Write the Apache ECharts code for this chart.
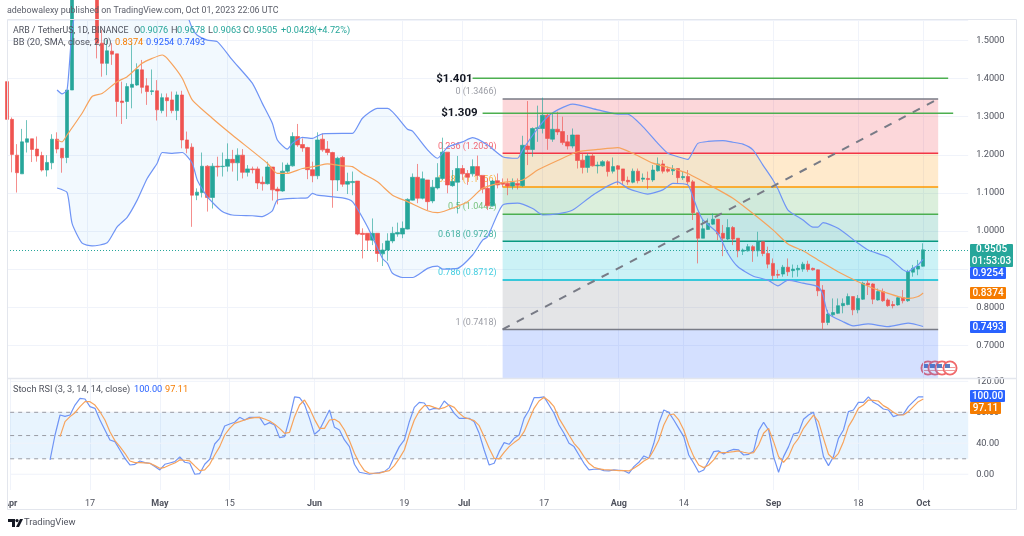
<!DOCTYPE html>
<html><head><meta charset="utf-8">
<style>html,body{margin:0;padding:0;background:#fff}#c{width:1024px;height:536px}</style>
<script src="https://cdn.jsdelivr.net/npm/echarts@6/dist/echarts.min.js"></script>
</head><body><div id="c"></div>
<script>
const opens=[1.392,1.293,1.199,1.150,1.233,1.242,1.215,1.198,1.160,1.179,
1.241,1.217,1.193,1.370,1.68,1.74,1.70,1.73,1.69,1.493,
1.440,1.472,1.465,1.341,1.340,1.377,1.383,1.423,1.381,1.366,
1.368,1.316,1.350,1.344,1.316,1.357,1.239,1.220,1.094,1.101,
1.170,1.088,1.170,1.169,1.170,1.188,1.179,1.199,1.154,1.163,
1.163,1.128,1.124,1.168,1.110,1.105,1.157,1.171,1.248,1.227,
1.219,1.161,1.145,1.241,1.215,1.206,1.134,1.193,1.123,1.127,
1.131,.994,.994,.976,.994,.940,.950,.974,.992,.992,
1.005,1.081,1.141,1.086,1.134,1.079,1.113,1.138,1.207,1.119,
1.128,1.164,1.151,1.150,1.169,1.146,1.112,1.066,1.132,1.127,
1.125,1.118,1.125,1.119,1.223,1.214,1.269,1.269,1.304,1.241,
1.267,1.261,1.234,1.223,1.252,1.186,1.167,1.197,1.171,1.171,
1.182,1.157,1.171,1.163,1.133,1.128,1.157,1.136,1.138,1.134,
1.158,1.176,1.162,1.158,1.164,1.140,1.143,1.129,1.048,.981,
1.004,1.018,1.031,.994,.979,1.009,.981,.947,.948,.959,
.948,.972,.941,.915,.886,.887,.905,.896,.898,.900,
.913,.902,.898,.845,.760,.780,.784,.804,.807,.828,
.793,.821,.863,.861,.819,.841,.819,.807,.806,.825,
.817,.892,.900,.9076];
const closes=[1.293,1.201,1.153,1.234,1.242,1.214,1.197,1.160,1.180,1.241,
1.215,1.192,1.370,1.68,1.74,1.70,1.73,1.69,1.493,1.440,
1.473,1.464,1.340,1.337,1.379,1.385,1.424,1.377,1.366,1.368,
1.318,1.350,1.342,1.316,1.357,1.239,1.217,1.094,1.102,1.170,
1.088,1.170,1.168,1.170,1.188,1.179,1.199,1.154,1.163,1.161,
1.126,1.124,1.168,1.108,1.105,1.157,1.173,1.248,1.226,1.218,
1.161,1.145,1.239,1.213,1.206,1.134,1.191,1.123,1.130,1.130,
.992,.991,.976,.994,.941,.950,.974,.994,.996,1.007,
1.083,1.141,1.086,1.137,1.077,1.115,1.140,1.207,1.121,1.130,
1.164,1.150,1.141,1.169,1.146,1.110,1.066,1.131,1.121,1.123,
1.118,1.127,1.120,1.225,1.214,1.269,1.271,1.304,1.243,1.267,
1.260,1.232,1.223,1.252,1.185,1.167,1.197,1.171,1.173,1.182,
1.156,1.169,1.162,1.132,1.129,1.157,1.132,1.139,1.135,1.160,
1.176,1.157,1.157,1.162,1.140,1.143,1.129,1.048,.981,1.006,
1.020,1.031,.992,.981,1.009,.979,.948,.950,.959,.948,
.972,.941,.913,.883,.884,.905,.893,.900,.902,.913,
.899,.898,.843,.760,.782,.786,.804,.810,.828,.793,
.823,.863,.858,.821,.841,.817,.804,.804,.825,.817,
.893,.902,.908,.9505];
const highs=[1.392,1.298,1.228,1.268,1.291,1.242,1.248,1.208,1.199,1.254,
1.259,1.217,1.370,1.72,1.78,1.78,1.76,1.76,1.72,1.528,
1.501,1.493,1.465,1.392,1.388,1.493,1.440,1.449,1.401,1.424,
1.396,1.361,1.361,1.366,1.366,1.368,1.261,1.230,1.112,1.206,
1.173,1.178,1.195,1.206,1.230,1.213,1.217,1.215,1.173,1.169,
1.169,1.143,1.182,1.168,1.116,1.180,1.179,1.259,1.281,1.243,
1.221,1.182,1.259,1.256,1.236,1.208,1.195,1.197,1.153,1.156,
1.131,1.007,.994,1.033,.994,.968,.994,1.011,1.022,1.025,
1.086,1.151,1.176,1.156,1.134,1.134,1.178,1.245,1.207,1.160,
1.197,1.173,1.160,1.188,1.198,1.146,1.138,1.134,1.151,1.138,
1.138,1.138,1.138,1.250,1.341,1.272,1.329,1.350,1.309,1.309,
1.313,1.300,1.252,1.269,1.252,1.204,1.204,1.204,1.182,1.186,
1.186,1.193,1.173,1.163,1.143,1.164,1.164,1.151,1.156,1.173,
1.193,1.186,1.169,1.173,1.164,1.156,1.160,1.134,1.048,1.029,
1.033,1.046,1.031,1.016,1.031,1.013,.981,.954,.966,.963,
.998,.972,.959,.928,.898,.911,.928,.912,.911,.919,
.922,.904,.899,.858,.793,.823,.823,.823,.836,.828,
.832,.867,.871,.863,.849,.849,.823,.816,.829,.845,
.898,.911,.924,.9678];
const lows=[1.293,1.154,1.101,1.150,1.206,1.181,1.182,1.156,1.143,1.162,
1.204,1.153,1.178,1.370,1.66,1.66,1.68,1.66,1.453,1.405,
1.409,1.436,1.300,1.281,1.294,1.322,1.381,1.361,1.331,1.357,
1.290,1.309,1.300,1.309,1.291,1.217,1.204,1.011,1.081,1.088,
1.051,1.059,1.143,1.143,1.156,1.156,1.132,1.138,1.143,1.151,
1.110,1.106,1.122,1.080,1.070,1.103,1.151,1.169,1.221,1.208,
1.136,1.128,1.136,1.208,1.199,1.061,1.105,1.116,1.097,1.094,
.989,.928,.950,.963,.919,.908,.922,.968,.985,.981,
1.004,1.080,1.073,1.083,1.055,1.073,1.109,1.134,1.099,1.116,
1.046,1.134,1.121,1.143,1.134,1.099,1.055,1.064,1.112,1.115,
1.094,1.109,1.109,1.116,1.173,1.195,1.234,1.256,1.213,1.234,
1.252,1.226,1.214,1.217,1.164,1.151,1.153,1.169,1.151,1.169,
1.143,1.151,1.121,1.121,1.121,1.125,1.125,1.129,1.110,1.129,
1.156,1.151,1.153,1.147,1.125,1.134,1.121,1.029,.915,.981,
1.003,1.016,.976,.934,.976,.963,.931,.937,.946,.919,
.933,.934,.902,.871,.876,.880,.882,.878,.880,.893,
.893,.896,.829,.742,.753,.775,.782,.784,.805,.779,
.784,.819,.832,.808,.817,.814,.801,.797,.804,.810,
.814,.880,.884,.9063];
const bbUpper=[[10,1.370],[11,1.360],[12,1.370],[13,1.528],[14,1.589],[16,1.66],[20,1.74],[26,1.76],[32,1.70],[35,1.60],[36,1.567],[37,1.532],[38,1.514],[40,1.501],[42,1.497],[45,1.449],[49,1.388],[51,1.335],[53,1.283],[54,1.239],[56,1.215],[57,1.230],[59,1.246],[61,1.243],[63,1.255],[67,1.256],[69,1.256],[71,1.296],[74,1.322],[76,1.322],[80,1.267],[81,1.262],[84,1.213],[86,1.191],[88,1.220],[91,1.234],[93,1.245],[96,1.226],[99,1.195],[102,1.191],[103,1.213],[106,1.269],[108,1.300],[110,1.318],[113,1.333],[118,1.318],[122,1.307],[124,1.307],[127,1.274],[130,1.230],[132,1.204],[134,1.195],[136,1.188],[137,1.208],[138,1.230],[140,1.235],[143,1.237],[145,1.233],[147,1.228],[149,1.213],[151,1.173],[153,1.134],[154,1.110],[156,1.055],[159,1.029],[161,1.010],[162,1.010],[163,1.022],[166,1.007],[170,.968],[172,.950],[176,.931],[179,.898],[180,.893],[181,.902],[182,.911],[183,.9254]];
const bbBasis=[[10,1.239],[11,1.234],[12,1.252],[15,1.309],[17,1.353],[19,1.361],[22,1.392],[24,1.405],[27,1.440],[29,1.453],[31,1.462],[32,1.453],[35,1.401],[37,1.344],[41,1.296],[45,1.252],[52,1.178],[54,1.151],[56,1.151],[59,1.164],[62,1.171],[64,1.176],[67,1.171],[69,1.169],[71,1.151],[74,1.129],[77,1.094],[80,1.077],[84,1.053],[86,1.048],[88,1.055],[92,1.077],[95,1.112],[99,1.127],[103,1.134],[106,1.160],[110,1.185],[114,1.208],[118,1.214],[122,1.219],[125,1.204],[129,1.178],[133,1.164],[134,1.160],[136,1.151],[141,1.116],[145,1.086],[149,1.046],[153,1.003],[156,.966],[159,.948],[162,.924],[166,.893],[170,.867],[174,.845],[180,.823],[182,.828],[183,.8374]];
const bbLower=[[10,1.113],[12,1.101],[13,1.020],[15,.968],[17,.961],[20,.969],[22,1.011],[24,1.036],[26,1.081],[28,1.138],[30,1.178],[31,1.206],[33,1.204],[35,1.206],[37,1.178],[38,1.134],[40,1.090],[43,1.051],[45,1.042],[49,1.040],[51,1.038],[53,1.053],[54,1.081],[58,1.086],[60,1.087],[61,1.099],[62,1.094],[67,1.087],[69,1.077],[72,1.011],[75,.928],[76,.915],[77,.889],[79,.878],[81,.878],[84,.902],[86,.908],[87,.900],[90,.902],[93,.937],[95,.976],[96,.985],[99,1.068],[102,1.073],[105,1.059],[107,1.042],[110,1.045],[113,1.055],[117,1.094],[122,1.129],[124,1.112],[128,1.097],[131,1.108],[133,1.125],[136,1.121],[137,1.090],[138,1.055],[139,1.029],[142,.994],[144,.941],[146,.906],[149,.882],[152,.871],[154,.856],[156,.871],[159,.863],[162,.854],[163,.832],[164,.784],[167,.762],[169,.751],[172,.756],[176,.749],[180,.758],[183,.7493]];
const stochK=[null,null,null,null,null,null,null,null,
18.5,50.7,76.5,74.8,76.5,89.4,98,97.2,87.3,85.1,70.1,57.2,44.3,42.1,31.4,20.6,12,12.9,17.2,15,14.2,9.9,5.6,12.9,14.6,16.3,22.4,15.5,14.2,0,.9,12.9,19.4,39.1,46.4,62.4,64.9,67.1,73.5,70.1,73.5,73.5,73.5,63.6,66.7,63.6,47.3,48.6,72.2,100,98.9,90.3,72.2,51.6,57.2,70.1,83,60.6,57.2,44.3,35.7,12.9,2.6,1.3,0,1.3,2.2,3.4,8.6,22.8,35.7,44.3,67.9,86.4,92.9,92,83,85.1,84.3,94.6,88.6,78.7,72.2,72.2,72.2,67.9,52.9,31.4,12,14.2,29.2,40.9,38.7,46.4,50.7,72.2,83,98.9,98.9,100,89.4,78.7,63.6,52.9,40,35.7,24.9,14.2,5.6,6.5,6.9,4.7,4.3,5.6,5.2,4.7,1.3,9.9,15.5,23.7,20.6,40,65.8,83,80,70.1,59.3,48.6,24.9,14.2,2.6,5.6,17.2,29.2,30.1,26.2,30.1,32.2,31.4,24.9,25.8,30.1,56.3,67.1,57.2,22.8,2.6,22.8,35.7,52,53.8,71,76.5,80,55,22.8,11.2,22.8,46.4,57.2,80.8,83,92.9,92.9,100,92.9,89.4,84.3,83,74.4,76.5,77.4,87.3,93.7,100,100];
const stochD=[null,null,null,null,null,null,null,null,null,null,
48.6,67.9,74.4,79.5,87.3,93.7,93.7,89.4,80.8,70.1,55,43.4,35.7,27.1,17.2,15,15,14.6,14.2,11.2,7.7,9,12,14.6,18.5,18.1,17.2,10.8,4.7,5.6,12.9,24.9,35.7,50.7,59.3,65.8,67.9,70.1,72.2,73.1,73.5,71.4,68.8,64.5,59.3,52.9,54.2,74.4,89.4,95.9,85.1,70.9,59.3,59.3,70.1,70.9,67.1,57.2,43.4,27.1,14.2,4.7,1.3,1.3,1.3,3.4,4.7,11.2,20.6,31.4,52,70.1,81.7,88.6,88.6,86.4,84.3,86,89.4,86.4,78.7,73.5,71.4,69.2,62.8,48.6,33.5,20.6,19.8,28.4,35.7,40.9,45.6,55,70.1,85.1,94.6,99.3,94.6,87.3,72.2,61.5,50.7,40,32.7,22.8,14.2,9,6.9,6,5.6,5.2,4.7,4.7,4.3,7.7,12,17.2,20.6,31.4,44.3,63.6,76.5,77.8,70.1,57.2,37.8,22.8,12,8.6,12,18.5,28,28,28.4,29.2,30.1,28.4,27.1,28,37.8,52.9,59.3,42.1,22.8,15.5,22.8,37.8,46.4,59.3,67.9,76.5,67.9,46.4,25.8,19.8,27.1,42.1,61.5,72.2,85.1,89.4,95.9,95.5,94.6,88.6,85.1,80,76.5,76.5,80.8,87.3,93.7,97.11];
const fibRatios=['0','0.236','0.382','0.5','0.618','0.786','1'];
const fibPrices=[1.3466,1.2039,1.1156,1.0442,0.9728,0.8712,0.7418];
const fibColors=['#787b86','#f23645','#ff9800','#4caf50','#089981','#00bcd4','#787b86'];
const fibFills=['rgba(242,54,69,.2)','rgba(255,152,0,.2)','rgba(76,175,80,.2)','rgba(8,153,129,.2)','rgba(0,188,212,.2)','rgba(120,123,134,.2)','rgba(41,98,255,.2)'];
const fibDays=[99,186];
const keyLevels=[1.401,1.309];
const keyLevelLabels=['$1.401','$1.309'];
const keyLevelDays=[[93,188],[95,189]];
const tickDays=[0,16,30,44,61,79,91,107,122,135,153,170,183];
const tickLabels=['Apr','17','May','15','Jun','19','Jul','17','Aug','14','Sep','18','Oct'];
const rsiTicks=[0,40,80,120];
const rsiGuides=[80,50,20];
const lastPrice=0.9505;
const priceMin=.6142, priceMax=1.5538, rsiMin=-20.3, rsiMax=123;
const FONT='Roboto, sans-serif';
const days=[];
for(let i=0;i<193;i++){const d=new Date(Date.UTC(2023,3,1+i));days.push(d.toISOString().slice(0,10));}

function txt(x,y,text,fill,size,weight){return {type:'text',x:x,y:y,z:50,silent:true,style:{text:text,fill:fill,verticalAlign:'middle',font:(weight||'normal')+' '+(size||9.2)+'px '+FONT}};}
function tag(x,y,w,h,color,lines){
  const out=[{type:'rect',x:x,y:y,z:60,silent:true,shape:{x:0,y:0,width:w,height:h,r:1},style:{fill:color}}];
  lines.forEach((t,i)=>out.push({type:'text',x:x+w/2,y:y+(h/lines.length)*(i+.5),z:61,silent:true,style:{text:t,fill:'#fff',align:'center',verticalAlign:'middle',font:'500 10px '+FONT}}));
  return out;
}
function flag(cx,cy){return {type:'group',x:cx,y:cy,z:40,silent:true,children:[
  {type:'circle',shape:{cx:0,cy:0,r:6.6},style:{fill:'#fff',stroke:'#f0686a',lineWidth:1.8}},
  {type:'rect',shape:{x:-5.5,y:-1,width:11,height:1},style:{fill:'#ef9a9a'}},
  {type:'rect',shape:{x:-5.5,y:2,width:11,height:1},style:{fill:'#ef9a9a'}},
  {type:'rect',shape:{x:-5,y:-4,width:5,height:4},style:{fill:'#5c7cbf'}}
]};}
const graphics=[
  {type:'rect',z:30,silent:true,shape:{x:0,y:485,width:7,height:30},style:{fill:'#fff'}},
  {type:'rect',z:31,silent:true,shape:{x:7.5,y:19.5,width:1009,height:490},style:{fill:'none',stroke:'#e3e6ed',lineWidth:1}},
  {type:'line',z:31,silent:true,shape:{x1:7,y1:378.5,x2:1017,y2:378.5},style:{stroke:'#e3e6ed',lineWidth:1.5}},
  txt(7,10.5,'adebowalexy published on TradingView.com, Oct 01, 2023 22:06 UTC','#5d606b',8.9),
  txt(13,30.5,'ARB / TetherUS, 1D, BINANCE','#50535e',8.8),
  txt(134,30.5,'O','#50535e'),txt(140,30.5,'0.9076','#26a69a'),
  txt(171,30.5,'H','#50535e'),txt(177,30.5,'0.9678','#26a69a'),
  txt(208,30.5,'L','#50535e'),txt(213,30.5,'0.9063','#26a69a'),
  txt(243,30.5,'C','#50535e'),txt(249,30.5,'0.9505','#26a69a'),
  txt(281,30.5,'+0.0428','#26a69a'),txt(314,30.5,'(+4.72%)','#26a69a'),
  txt(13,43,'BB (20, SMA, close, 2, 0)','#50535e'),
  txt(115,43,'0.8374','#f57c00'),txt(146,43,'0.9254','#2962ff'),txt(177,43,'0.7493','#2962ff'),
  txt(13,389.5,'Stoch RSI (3, 3, 14, 14, close)','#50535e'),
  txt(134,389.5,'100.00','#2962ff'),txt(165,389.5,'97.11','#f57c00'),
  ...tag(970,244,43,23,'#26a69a',['0.9505','01:53:03']),
  ...tag(970,267,36,12,'#2962ff',['0.9254']),
  ...tag(970,287,36,12,'#f57c00',['0.8374']),
  ...tag(970,321,36,12,'#2962ff',['0.7493']),
  ...tag(970,390,35,12,'#2962ff',['100.00']),
  ...tag(970,402,31,12,'#f57c00',['97.11']),
  flag(928,368),flag(935,368),flag(942,368),flag(950,368),
  {type:'group',x:8,y:519,z:50,silent:true,children:[
    {type:'polygon',shape:{points:[[0,0],[7,0],[7,8],[4,8],[4,3],[0,3]]},style:{fill:'#131722'}},
    {type:'circle',shape:{cx:9,cy:1.6,r:1.6},style:{fill:'#131722'}},
    {type:'polygon',shape:{points:[[11,8],[8,8],[12,0],[15,0]]},style:{fill:'#131722'}}
  ]},
  txt(24,523,'TradingView','#50535e',9.4)
];
function bandItem(params,api){
  const pts=[];
  bbUpper.forEach(p=>pts.push(api.coord(p)));
  bbLower.slice().reverse().forEach(p=>pts.push(api.coord(p)));
  return {type:'polygon',shape:{points:pts},style:{fill:'rgba(33,150,243,.06)'}};
}
function fibItem(params,api){
  const k=api.value(0);
  const a=api.coord([fibDays[0],fibPrices[k]]);
  const b=api.coord([fibDays[1],k+1<fibPrices.length?fibPrices[k+1]:priceMin]);
  return {type:'group',children:[
    {type:'rect',shape:{x:a[0],y:a[1],width:b[0]-a[0],height:b[1]-a[1]},style:{fill:fibFills[k]}},
    {type:'line',shape:{x1:a[0],y1:a[1],x2:b[0],y2:a[1]},style:{stroke:fibColors[k],lineWidth:1.5}},
    {type:'text',style:{x:a[0]-6,y:a[1]-7,text:fibRatios[k]+' ('+fibPrices[k].toFixed(4)+')',fill:fibColors[k],opacity:.75,align:'right',verticalAlign:'middle',font:'9px '+FONT}}
  ]};
}
function levelItem(params,api){
  const k=api.value(0);
  const a=api.coord([keyLevelDays[k][0],keyLevels[k]]);
  const b=api.coord([keyLevelDays[k][1],keyLevels[k]]);
  return {type:'group',children:[
    {type:'line',shape:{x1:a[0],y1:a[1],x2:b[0],y2:b[1]},style:{stroke:'#4caf50',lineWidth:1.5}},
    {type:'text',style:{x:a[0]-(k?5:0),y:a[1]+(k?0:1),text:keyLevelLabels[k],fill:'#131722',align:'right',verticalAlign:'middle',font:'bold 11.5px '+FONT}}
  ]};
}
function rsiItem(params,api){
  const first=0,last=days.length-1;
  const left=api.coord([first,0])[0],right=api.coord([last,0])[0];
  const y=v=>api.coord([first,v])[1];
  const kids=[{type:'rect',shape:{x:left,y:y(80),width:right-left,height:y(20)-y(80)},style:{fill:'rgba(33,150,243,.1)'}}];
  rsiTicks.forEach(v=>kids.push({type:'line',shape:{x1:left,y1:y(v),x2:right,y2:y(v)},style:{stroke:'#f0f3fa',lineWidth:1}}));
  rsiGuides.forEach(v=>kids.push({type:'line',shape:{x1:left,y1:y(v),x2:right,y2:y(v)},style:{stroke:'#9a9ca5',lineWidth:1,lineDash:[4,4]}}));
  return {type:'group',children:kids};
}
const gridLine={show:true,lineStyle:{color:'#f0f3fa',width:1}};
const tickInterval=(index)=>tickDays.includes(index);
const candleData=opens.map((o,i)=>[o,closes[i],lows[i],highs[i]]);
const option={
  animation:false,
  backgroundColor:'#fff',
  graphic:graphics,
  grid:[{left:7,top:20,width:961.2,height:358},{left:7,top:379,width:961.2,height:111}],
  xAxis:[
    {type:'category',gridIndex:0,data:days,boundaryGap:false,axisLine:{show:false},axisTick:{show:false},axisLabel:{show:false},splitLine:{...gridLine,interval:tickInterval}},
    {type:'category',gridIndex:1,data:days,boundaryGap:false,axisLine:{show:false},axisTick:{show:false},splitLine:{...gridLine,interval:tickInterval},
      axisLabel:{interval:tickInterval,margin:9,color:'#50535e',fontFamily:FONT,fontSize:9,
        formatter:(v,i)=>{const t=tickLabels[tickDays.indexOf(i)];return /[A-Za-z]/.test(t)?'{b|'+t+'}':t;},
        rich:{b:{fontWeight:'bold',color:'#50535e',fontFamily:FONT,fontSize:9}}}}
  ],
  yAxis:[
    {type:'value',gridIndex:0,position:'right',min:priceMin,max:priceMax,splitNumber:9,axisLine:{show:false},axisTick:{show:false},splitLine:gridLine,
      axisLabel:{margin:8,color:'#50535e',fontFamily:FONT,fontSize:9.2,showMinLabel:false,showMaxLabel:false,formatter:v=>v.toFixed(4)}},
    {type:'value',gridIndex:1,position:'right',min:rsiMin,max:rsiMax,axisLine:{show:false},axisTick:{show:false},splitLine:{show:false},
      axisLabel:{margin:8,color:'#50535e',fontFamily:FONT,fontSize:9.2,customValues:rsiTicks,formatter:v=>v.toFixed(2)}}
  ],
  series:[
    {type:'custom',name:'BB fill',xAxisIndex:0,yAxisIndex:0,clip:true,silent:true,z:1,data:[[0]],renderItem:bandItem},
    {type:'custom',name:'Fibonacci',xAxisIndex:0,yAxisIndex:0,clip:true,silent:true,z:2,data:fibPrices.map((p,i)=>[i]),renderItem:fibItem},
    {type:'candlestick',name:'ARB / TetherUS',xAxisIndex:0,yAxisIndex:0,z:3,barWidth:4,silent:true,data:candleData,
      itemStyle:{color:'#26a69a',color0:'#ef5350',borderColor:'rgba(38,166,154,.65)',borderColor0:'rgba(239,83,80,.65)',borderWidth:1},
      markLine:{silent:true,symbol:'none',label:{show:false},lineStyle:{color:'#26a69a',type:[1,2],width:1},data:[{yAxis:lastPrice}]}},
    {type:'line',name:'Basis',xAxisIndex:0,yAxisIndex:0,z:4,silent:true,showSymbol:false,smooth:.2,data:bbBasis,lineStyle:{color:'#f7a35c',width:1.2}},
    {type:'line',name:'Upper',xAxisIndex:0,yAxisIndex:0,z:4,silent:true,showSymbol:false,smooth:.2,data:bbUpper,lineStyle:{color:'#6f94f5',width:1.2}},
    {type:'line',name:'Lower',xAxisIndex:0,yAxisIndex:0,z:4,silent:true,showSymbol:false,smooth:.2,data:bbLower,lineStyle:{color:'#6f94f5',width:1.2}},
    {type:'line',name:'Trend',xAxisIndex:0,yAxisIndex:0,z:4,silent:true,showSymbol:false,data:[[fibDays[0],fibPrices[6]],[fibDays[1],fibPrices[0]]],lineStyle:{color:'#787b86',width:2,type:[8,8]}},
    {type:'custom',name:'Key levels',xAxisIndex:0,yAxisIndex:0,silent:true,z:5,data:keyLevels.map((p,i)=>[i]),renderItem:levelItem},
    {type:'custom',name:'RSI band',xAxisIndex:1,yAxisIndex:1,clip:false,silent:true,z:1,data:[[0]],renderItem:rsiItem},
    {type:'line',name:'Stoch K',xAxisIndex:1,yAxisIndex:1,z:4,silent:true,showSymbol:false,data:stochK,lineStyle:{color:'#6f94f5',width:1.2}},
    {type:'line',name:'Stoch D',xAxisIndex:1,yAxisIndex:1,z:4,silent:true,showSymbol:false,data:stochD,lineStyle:{color:'#f7a35c',width:1.2}}
  ]
};
const chart=echarts.init(document.getElementById('c'),null,{renderer:'canvas'});
chart.setOption(option);
</script></body></html>
